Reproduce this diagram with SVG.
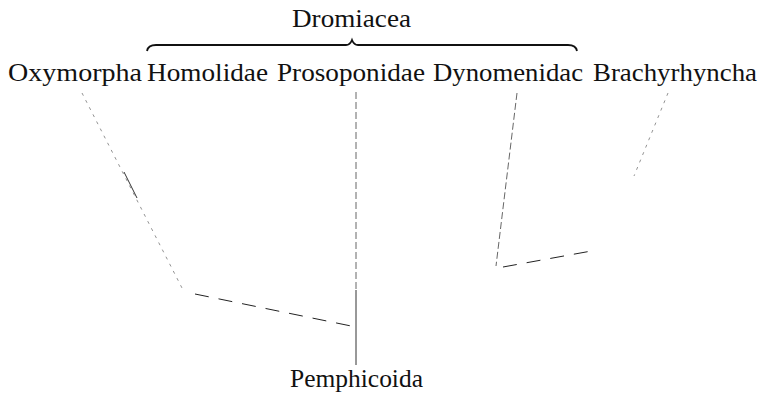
<svg xmlns="http://www.w3.org/2000/svg" width="762" height="399" viewBox="0 0 762 399">
<style>
.t{font-family:'Liberation Serif','Times New Roman',serif;font-size:26px;fill:#111}
.ln{fill:none;stroke:#333;stroke-width:1}
.fd{fill:none;stroke:#777;stroke-width:0.8;stroke-dasharray:3 5}
.md{fill:none;stroke:#555;stroke-width:0.9;stroke-dasharray:7 3}
.ds{fill:none;stroke:#222;stroke-width:1;stroke-dasharray:14 10}
.br{fill:none;stroke:#111;stroke-width:1.8}
</style>
<rect width="762" height="399" fill="#fff"/>
<g id="dromiacea">
<text class="t" x="292" y="27" textLength="119" lengthAdjust="spacingAndGlyphs">Dromiacea</text>
<path class="br" d="M147,51 Q148,45 156,45 L346,45 Q350,45 352,40 Q354,45 358,45 L568,45 Q576,45 577,51"/>
</g>
<g id="oxymorpha"><text class="t" x="8" y="81" textLength="134" lengthAdjust="spacingAndGlyphs">Oxymorpha</text></g>
<g id="homolidae"><text class="t" x="147" y="81" textLength="121" lengthAdjust="spacingAndGlyphs">Homolidae</text></g>
<g id="prosoponidae"><text class="t" x="277" y="81" textLength="148" lengthAdjust="spacingAndGlyphs">Prosoponidae</text></g>
<g id="dynomenidae"><text class="t" x="433" y="81" textLength="150" lengthAdjust="spacingAndGlyphs">Dynomenidac</text></g>
<g id="brachyrhyncha"><text class="t" x="593" y="81" textLength="164" lengthAdjust="spacingAndGlyphs">Brachyrhyncha</text></g>
<g id="pemphicoida"><text class="t" x="290" y="387" textLength="133" lengthAdjust="spacingAndGlyphs">Pemphicoida</text></g>
<g id="connectors">
<path class="fd" d="M82,93 L182,288"/>
<path class="ln" d="M124,172 L137,198"/>
<path class="ds" d="M195,294 L356,327"/>
<path class="md" d="M356,92 L356,290"/>
<path class="ln" d="M356,290 L356,365"/>
<path class="md" d="M517,93 L496,266"/>
<path class="ds" d="M503,267 L597,250"/>
<path class="fd" d="M668,93 L634,176"/>
</g>
</svg>
